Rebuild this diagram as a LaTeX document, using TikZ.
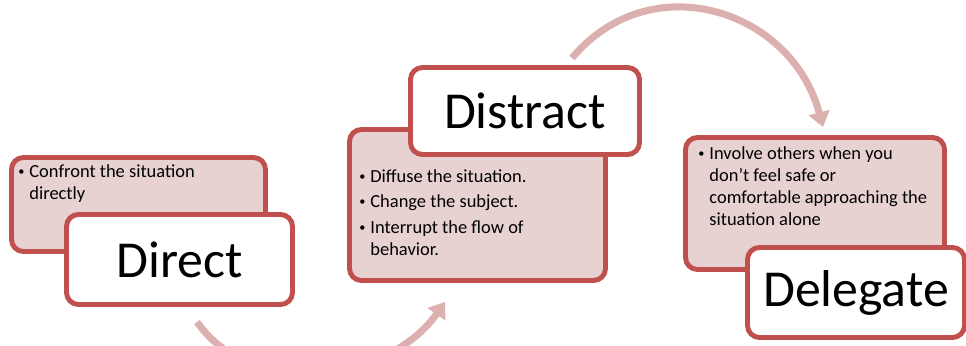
\documentclass[tikz,border=0pt]{standalone}
\usepackage{fontspec}
\setmainfont{Carlito}
\usetikzlibrary{positioning,arrows.meta,backgrounds}

\definecolor{boxred}{HTML}{C0504D}
\definecolor{boxpink}{HTML}{E7D2D1}
\definecolor{arcpink}{HTML}{DCB0AF}

\newcommand{\bulletdot}{\raisebox{0.2ex}{\fontsize{7}{7}\selectfont\textbullet}}

\begin{document}
\begin{tikzpicture}[
  detailbox/.style={draw=boxred, fill=boxpink, line width=2.8pt, rounded corners=0.24cm, inner sep=0pt},
  titlebox/.style={draw=boxred, fill=white, line width=2.8pt, rounded corners=0.24cm, inner sep=0pt,
    font=\fontsize{29.5}{34}\selectfont},
  bullets/.style={inner sep=0pt, align=left, font=\fontsize{10.5}{12.5}\selectfont},
  flow/.style={arcpink, line width=4pt, -{Triangle[width=0.42cm,length=0.3cm]}}
]
  \useasboundingbox (0,0) rectangle (19.32,6.9);

  \node [detailbox, minimum width=5.08cm, minimum height=1.88cm] (dirD) at (2.77,2.81) {};
  \node [bullets, below right=0.13cm and 0.18cm of dirD.north west] (dirL)
    {\begin{tabular}{@{}p{0.22cm}@{}l@{}}
      \bulletdot & Confront the situation\\
                 & directly
    \end{tabular}};
  \node [titlebox, minimum width=4.52cm, minimum height=1.80cm] (dirT) at (3.59,1.71) {Direct};

  %%

  \node [detailbox, minimum width=5.12cm, minimum height=3.02cm] (disD) at (9.55,2.80) {};
  \node [bullets, below right=0.79cm and 0.24cm of disD.north west] (disL)
    {\begin{tabular}{@{}p{0.22cm}@{}l@{}}
      \bulletdot & Diffuse the situation.\\[2pt]
      \bulletdot & Change the subject.\\[2pt]
      \bulletdot & Interrupt the flow of\\
                 & behavior.
    \end{tabular}};
  \node [titlebox, minimum width=4.58cm, minimum height=1.74cm] (disT) at (10.5,4.68) {Distract};

  %%

  \node [detailbox, minimum width=5.18cm, minimum height=2.64cm] (delD) at (16.3,2.83) {};
  \node [bullets, below right=0.17cm and 0.30cm of delD.north west] (delL)
    {\begin{tabular}{@{}p{0.22cm}@{}l@{}}
      \bulletdot & Involve others when you\\
                 & don’t feel safe or\\
                 & comfortable approaching the\\
                 & situation alone
    \end{tabular}};
  \node [titlebox, minimum width=4.34cm, minimum height=1.80cm] (delT) at (17.12,1.05) {Delegate};

  %%

  \begin{scope}[on background layer]
    \draw [flow] ([xshift=0.35cm,yshift=-0.30cm]dirT.south)
      to [out=-55,in=-125] ([xshift=-0.65cm,yshift=-0.38cm]disD.south);
    \draw [flow] ([xshift=0.94cm,yshift=0.14cm]disT.north)
      to [out=50,in=105,looseness=1.2] ([xshift=0.16cm,yshift=0.16cm]delD.north);
  \end{scope}

\end{tikzpicture}
\end{document}
